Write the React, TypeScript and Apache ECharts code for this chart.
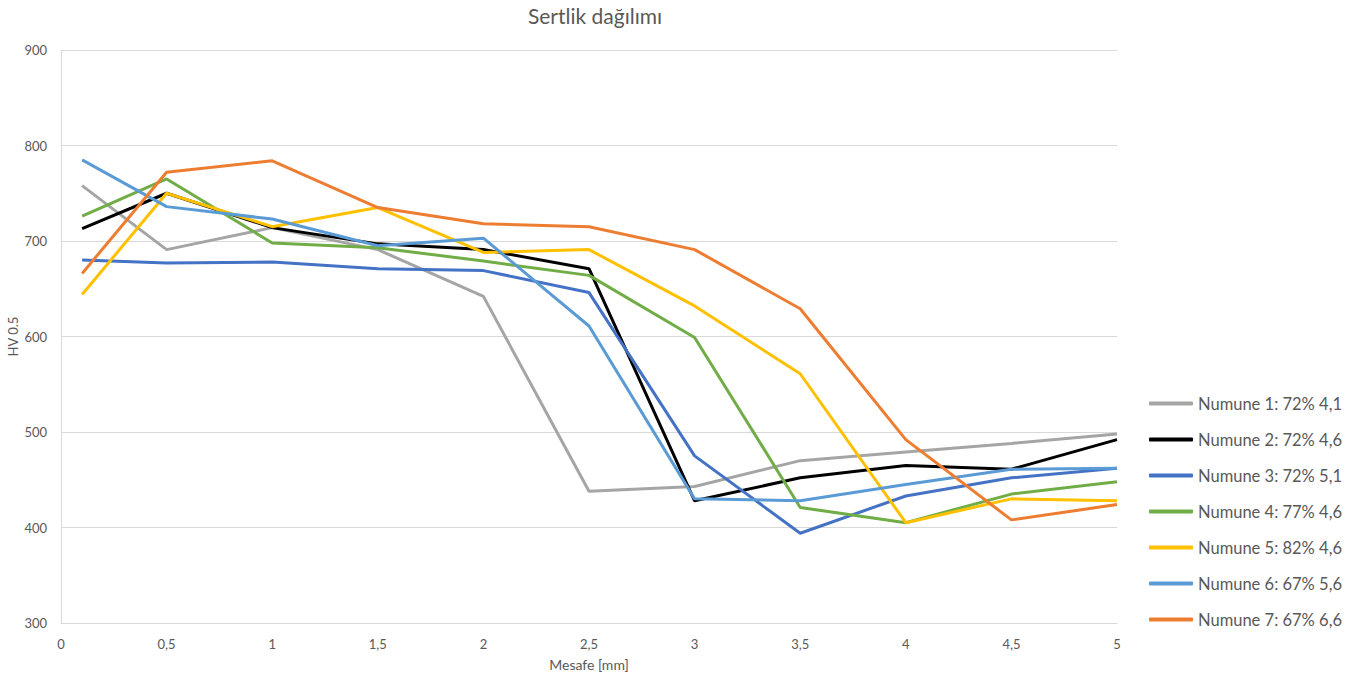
import React, { useEffect, useRef } from "react";
import * as echarts from "echarts";

const xValues = [0.1, 0.5, 1, 1.5, 2, 2.5, 3, 3.5, 4, 4.5, 5];
const seriesNames = [
  "Numune 1: 72% 4,1",
  "Numune 2: 72% 4,6",
  "Numune 3: 72% 5,1",
  "Numune 4: 77% 4,6",
  "Numune 5: 82% 4,6",
  "Numune 6: 67% 5,6",
  "Numune 7: 67% 6,6",
];
const n1 = [758, 691, 714, 691, 642, 438, 443, 470, 479, 488, 498];
const n2 = [713, 750, 714, 697, 691, 671, 428, 452, 465, 461, 492];
const n3 = [680, 677, 678, 671, 669, 646, 475, 394, 433, 452, 462];
const n4 = [726, 765, 698, 693, 679, 664, 599, 421, 405, 435, 448];
const n5 = [644, 750, 715, 735, 688, 691, 632, 561, 405, 430, 428];
const n6 = [785, 736, 723, 695, 703, 611, 430, 428, 445, 461, 462];
const n7 = [666, 772, 784, 735, 718, 715, 691, 629, 492, 408, 424];
const seriesValues = [n1, n2, n3, n4, n5, n6, n7];
const colors = ["#A5A5A5", "#000000", "#4472C4", "#70AD47", "#FFC000", "#5B9BD5", "#ED7D31"];

const FONT = "Lato, 'Open Sans', sans-serif";
const TXT = "#595959";

export default function App() {
  const ref = useRef<HTMLDivElement>(null);
  useEffect(() => {
    if (!ref.current) return;
    const chart = echarts.init(ref.current, null, { renderer: "svg" });
    chart.setOption({
      animation: false,
      color: colors,
      textStyle: { fontFamily: FONT },
      title: {
        text: "Sertlik dağılımı",
        left: 590,
        top: 0,
        textAlign: "center",
        textStyle: { fontFamily: FONT, fontSize: 21, fontWeight: "normal", color: TXT },
      },
      grid: { left: 61, right: 250, top: 50, bottom: 57, containLabel: false, outerBoundsMode: "none" },
      legend: {
        orient: "vertical",
        left: 1144,
        top: 390,
        icon: "roundRect",
        itemWidth: 44,
        itemHeight: 4,
        itemGap: 19,
        textStyle: { fontFamily: FONT, fontSize: 16.5, color: TXT },
        data: seriesNames,
      },
      xAxis: {
        type: "value",
        min: 0,
        max: 5,
        interval: 0.5,
        name: "Mesafe [mm]",
        nameLocation: "middle",
        nameGap: 34,
        nameTextStyle: { fontFamily: FONT, fontSize: 14, color: TXT },
        axisLine: { show: true, lineStyle: { color: "#D9D9D9", width: 1 } },
        axisTick: { show: false },
        splitLine: { show: false },
        axisLabel: {
          fontFamily: FONT,
          fontSize: 13,
          color: TXT,
          margin: 14,
          formatter: (v: number) => String(v).replace(".", ","),
        },
      },
      yAxis: {
        type: "value",
        min: 300,
        max: 900,
        interval: 100,
        name: "HV 0.5",
        nameLocation: "middle",
        nameGap: 42,
        nameMoveOverlap: false,
        nameTextStyle: { fontFamily: FONT, fontSize: 13, color: TXT },
        axisLine: { show: true, lineStyle: { color: "#D9D9D9", width: 1 } },
        axisTick: { show: false },
        splitLine: { show: true, lineStyle: { color: "#D9D9D9", width: 1 } },
        axisLabel: { fontFamily: FONT, fontSize: 13, color: TXT, margin: 14 },
      },
      series: seriesNames.map((name, i) => ({
        name,
        type: "line",
        showSymbol: false,
        symbol: "none",
        lineStyle: { width: 3, color: colors[i] },
        itemStyle: { color: colors[i] },
        data: xValues.map((x, j) => [x, seriesValues[i][j]]),
      })),
    });
    return () => chart.dispose();
  }, []);
  return (
    <div
      ref={ref}
      style={{ position: "fixed", left: 0, top: 0, width: 1367, height: 680, background: "#fff" }}
    />
  );
}
